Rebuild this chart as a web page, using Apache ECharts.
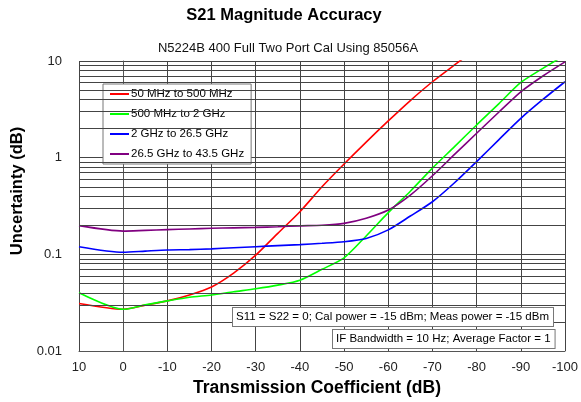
<!DOCTYPE html>
<html><head><meta charset="utf-8">
<script src="https://cdn.jsdelivr.net/npm/echarts@6/dist/echarts.min.js"></script>
<style>html,body{margin:0;padding:0;background:#fff}#c{width:581px;height:402px}</style>
</head><body><div id="c"></div>
<script>
// ---- data ----
const transmission = [10, 0, -5, -10, -15, -20, -25, -30, -35, -40, -45, -50, -55, -60, -65, -70, -75, -80, -85, -90, -95, -100];
const seriesNames = ['50 MHz to 500 MHz', '500 MHz to 2 GHz', '2 GHz to 26.5 GHz', '26.5 GHz to 43.5 GHz'];
const red    = [0.031, 0.027, 0.0298, 0.033, 0.038, 0.046, 0.064, 0.098, 0.165, 0.276, 0.50, 0.86, 1.45, 2.4, 3.9, 6.1, 9.1, 13.5, null, null, null, null];
const green  = [0.040, 0.027, 0.030, 0.033, 0.036, 0.038, 0.041, 0.044, 0.048, 0.054, 0.070, 0.092, 0.155, 0.27, 0.45, 0.78, 1.3, 2.18, 3.6, 6.0, 8.4, 11.5];
const blue   = [0.12, 0.105, 0.108, 0.111, 0.112, 0.114, 0.117, 0.12, 0.123, 0.126, 0.130, 0.135, 0.146, 0.179, 0.249, 0.35, 0.55, 0.91, 1.53, 2.55, 4.0, 6.1];
const purple = [0.198, 0.174, 0.177, 0.18, 0.183, 0.186, 0.188, 0.19, 0.193, 0.197, 0.200, 0.209, 0.236, 0.287, 0.41, 0.65, 1.08, 1.79, 2.95, 4.8, 7.0, 9.8];
const yTickLabels = ['0.01', '0.1', '1', '10'];
const xTickStep = 10;
const titleText = 'S21 Magnitude Accuracy';
const subtitleText = 'N5224B 400 Full Two Port Cal Using 85056A';
const note1 = 'S11 = S22 = 0; Cal power = -15 dBm; Meas power = -15 dBm';
const note2 = 'IF Bandwidth = 10 Hz; Average Factor = 1';

// ---- styling ----
const FONT = '"Liberation Sans", Arial, sans-serif';
const GRID = '#444';
const colors = ['#ff0000', '#00ff00', '#0000ff', '#800080'];
const values = [red, green, blue, purple];

const minorGrid = [];
[0.01, 0.1, 1].forEach(d => { for (let k = 2; k <= 9; k++) minorGrid.push(+(k * d).toFixed(4)); });

const chart = echarts.init(document.getElementById('c'), null, {renderer: 'canvas'});

const curveSeries = seriesNames.map((name, s) => ({
  name, type: 'line', z: 3,
  data: transmission.map((x, i) => [x, values[s][i]]),
  showSymbol: false, symbol: 'none',
  smooth: 0.25,
  lineStyle: {color: colors[s], width: 1.6},
  itemStyle: {color: colors[s]},
  clip: true, connectNulls: false
}));

chart.setOption({
  animation: false,
  backgroundColor: '#fff',
  title: [
    {text: titleText, left: 279, top: 2, textAlign: 'center',
     textStyle: {fontFamily: FONT, fontSize: 16.5, fontWeight: 'bold', color: '#000'}},
    {text: subtitleText, left: 283, top: 37, textAlign: 'center',
     textStyle: {fontFamily: FONT, fontSize: 13, fontWeight: 'normal', color: '#111'}}
  ],
  grid: {left: 79, right: 16, top: 61, bottom: 51, containLabel: false},
  legend: {
    data: seriesNames, orient: 'vertical', left: 103, top: 84,
    padding: [4, 7, 4, 7], itemGap: 8, itemWidth: 19, itemHeight: 2, icon: 'rect',
    backgroundColor: '#fff', borderColor: '#777', borderWidth: 1, borderRadius: 0,
    textStyle: {fontFamily: FONT, fontSize: 11.5, color: '#000', lineHeight: 12, padding: [0, 0, 0, -3]}
  },
  xAxis: {
    type: 'value', min: -100, max: 10, interval: xTickStep, inverse: true,
    name: 'Transmission Coefficient (dB)', nameLocation: 'middle', nameGap: 26,
    nameTextStyle: {fontFamily: FONT, fontSize: 17.5, fontWeight: 'bold', color: '#000', padding: [0, 10, 0, 0]},
    axisLine: {show: true, lineStyle: {color: '#555', width: 1}},
    axisTick: {show: false},
    axisLabel: {fontFamily: FONT, fontSize: 13, color: '#222', margin: 10},
    splitLine: {show: true, lineStyle: {color: GRID, width: 1}}
  },
  yAxis: {
    type: 'log', logBase: 10, min: 0.01, max: 10,
    name: 'Uncertainty (dB)', nameLocation: 'middle', nameGap: 44,
    nameTextStyle: {fontFamily: FONT, fontSize: 16.5, fontWeight: 'bold', color: '#000', padding: [0, 0, 0, 30]},
    axisLine: {show: true, lineStyle: {color: '#555', width: 1}},
    axisTick: {show: false},
    axisLabel: {fontFamily: FONT, fontSize: 13, color: '#222', margin: 17,
      formatter: v => {
        const e = Math.round(Math.log10(v)) + 2;
        return yTickLabels[e] !== undefined ? yTickLabels[e] : '';
      }},
    splitLine: {show: true, lineStyle: {color: GRID, width: 1}}
  },
  graphic: [
    {type: 'text', left: 232, top: 307, z: 100,
     style: {text: note1, font: '11.5px ' + FONT, fill: '#000', backgroundColor: '#fff',
             borderColor: '#777', borderWidth: 1, padding: [3, 4, 3, 3]}},
    {type: 'text', left: 332, top: 329, z: 100,
     style: {text: note2, font: '11.5px ' + FONT, fill: '#000', backgroundColor: '#fff',
             borderColor: '#777', borderWidth: 1, padding: [3, 4, 3, 3]}}
  ],
  series: [
    {name: 'gridMinor', type: 'line', data: [], z: 1, silent: true,
     markLine: {silent: true, symbol: 'none', animation: false,
       label: {show: false},
       lineStyle: {type: 'solid', color: GRID, width: 1},
       emphasis: {disabled: true},
       data: minorGrid.map(v => ({yAxis: v}))}}
  ].concat(curveSeries)
});
</script></body></html>
